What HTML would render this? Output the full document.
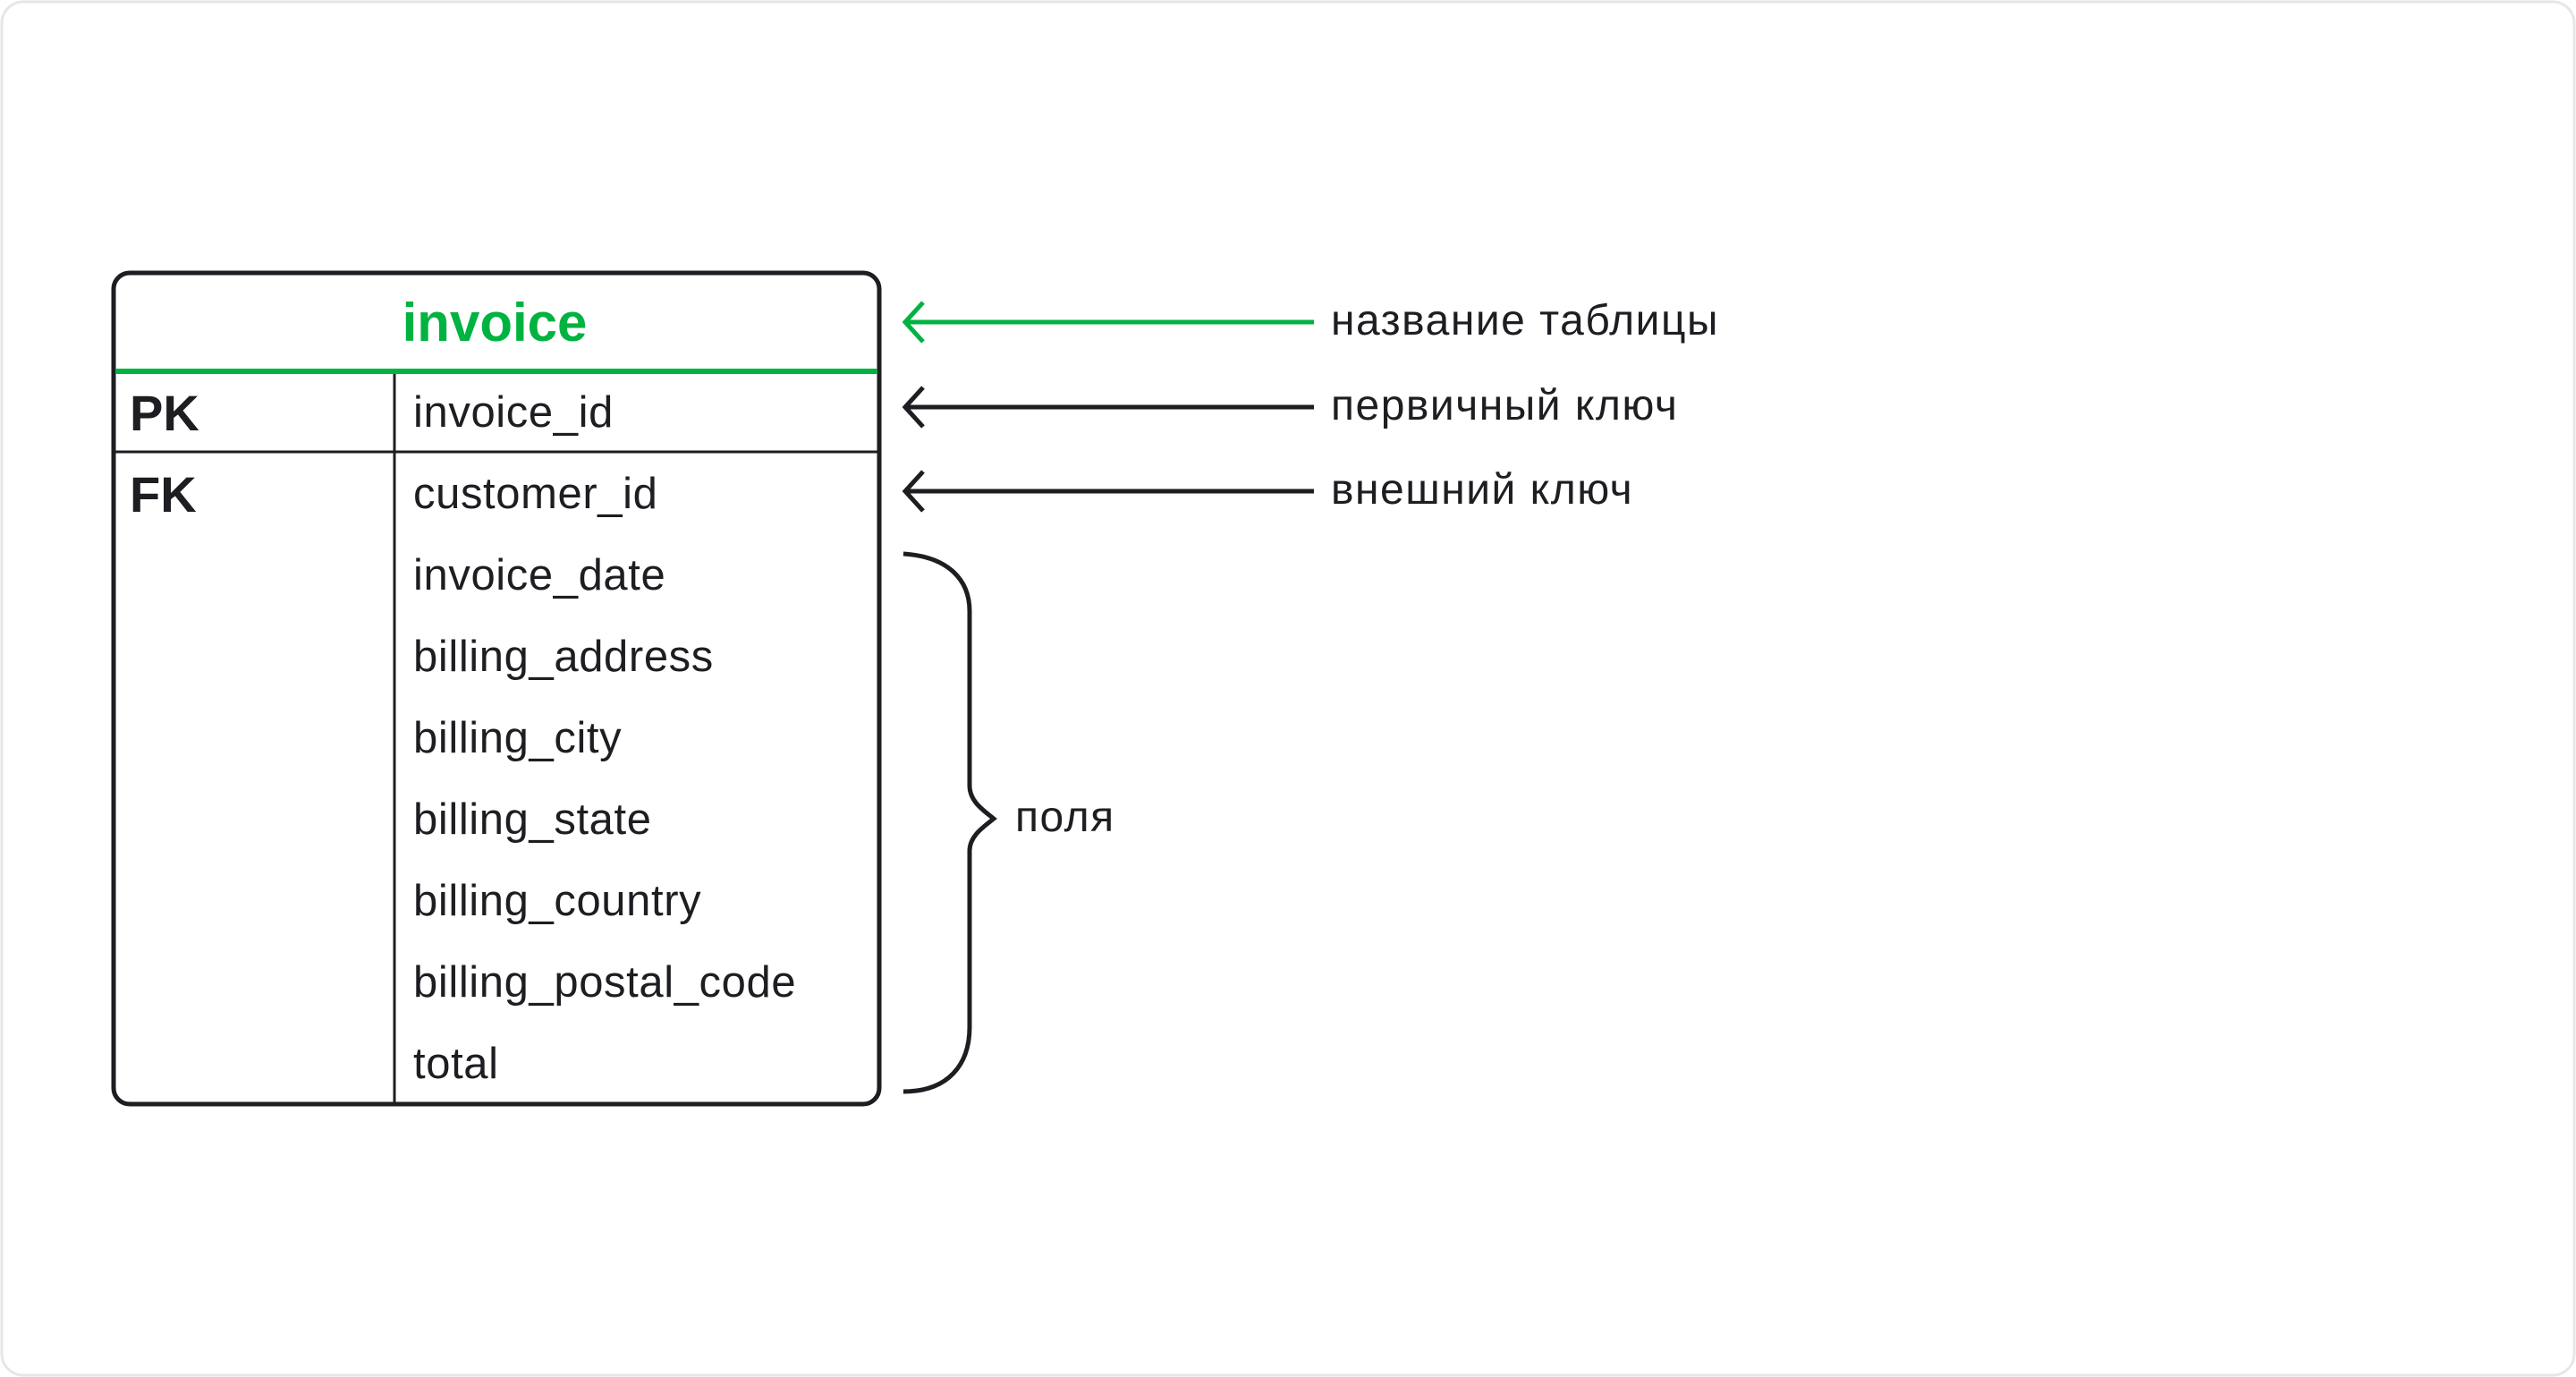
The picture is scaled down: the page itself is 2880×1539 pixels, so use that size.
<!DOCTYPE html>
<html><head><meta charset="utf-8"><style>
html,body{margin:0;padding:0;background:#fff;}
svg{display:block;}
text{font-family:"Liberation Sans","DejaVu Sans",sans-serif;fill:#1d1d22;}
</style></head><body>
<svg width="2880" height="1539" viewBox="0 0 2880 1539" xmlns="http://www.w3.org/2000/svg">
<rect x="2" y="2" width="2876" height="1535" rx="24" fill="#fff" stroke="#e6e6e6" stroke-width="3"/>
<rect x="127" y="305" width="856" height="929" rx="18" fill="#fff" stroke="#1d1d22" stroke-width="5"/>
<line x1="441" y1="415" x2="441" y2="1232" stroke="#1d1d22" stroke-width="3"/>
<line x1="129" y1="505" x2="981" y2="505" stroke="#1d1d22" stroke-width="3"/>
<line x1="129" y1="415" x2="981" y2="415" stroke="#00b341" stroke-width="6"/>
<text x="553" y="381" text-anchor="middle" font-size="60" font-weight="bold" style="fill:#00b341">invoice</text>
<text x="145" y="481" font-size="56" font-weight="bold">PK</text>
<text x="145" y="572" font-size="56" font-weight="bold">FK</text>
<g font-size="49" letter-spacing="0.6">
<text x="462" y="477">invoice_id</text>
<text x="462" y="568">customer_id</text>
<text x="462" y="659">invoice_date</text>
<text x="462" y="750">billing_address</text>
<text x="462" y="841">billing_city</text>
<text x="462" y="932">billing_state</text>
<text x="462" y="1023">billing_country</text>
<text x="462" y="1114">billing_postal_code</text>
<text x="462" y="1205">total</text>
</g>
<g fill="none" stroke-width="5" stroke-linecap="butt">
<line x1="1012" y1="360" x2="1469" y2="360" stroke="#00b341"/>
<polyline points="1032,338 1012,360 1032,382" stroke="#00b341"/>
<line x1="1012" y1="455" x2="1469" y2="455" stroke="#1d1d22"/>
<polyline points="1032,433 1012,455 1032,477" stroke="#1d1d22"/>
<line x1="1012" y1="549" x2="1469" y2="549" stroke="#1d1d22"/>
<polyline points="1032,527 1012,549 1032,571" stroke="#1d1d22"/>
<path d="M1010,619 C1060,622 1084,648 1084,683 L1084,878 C1084,896 1100,906 1111,915 C1100,924 1084,934 1084,951 L1084,1148 C1084,1190 1060,1220 1010,1220" stroke="#1d1d22"/>
</g>
<g font-size="48" letter-spacing="1.5">
<text x="1488" y="374">название таблицы</text>
<text x="1488" y="469">первичный ключ</text>
<text x="1488" y="563">внешний ключ</text>
<text x="1135" y="929">поля</text>
</g>
</svg>
</body></html>
